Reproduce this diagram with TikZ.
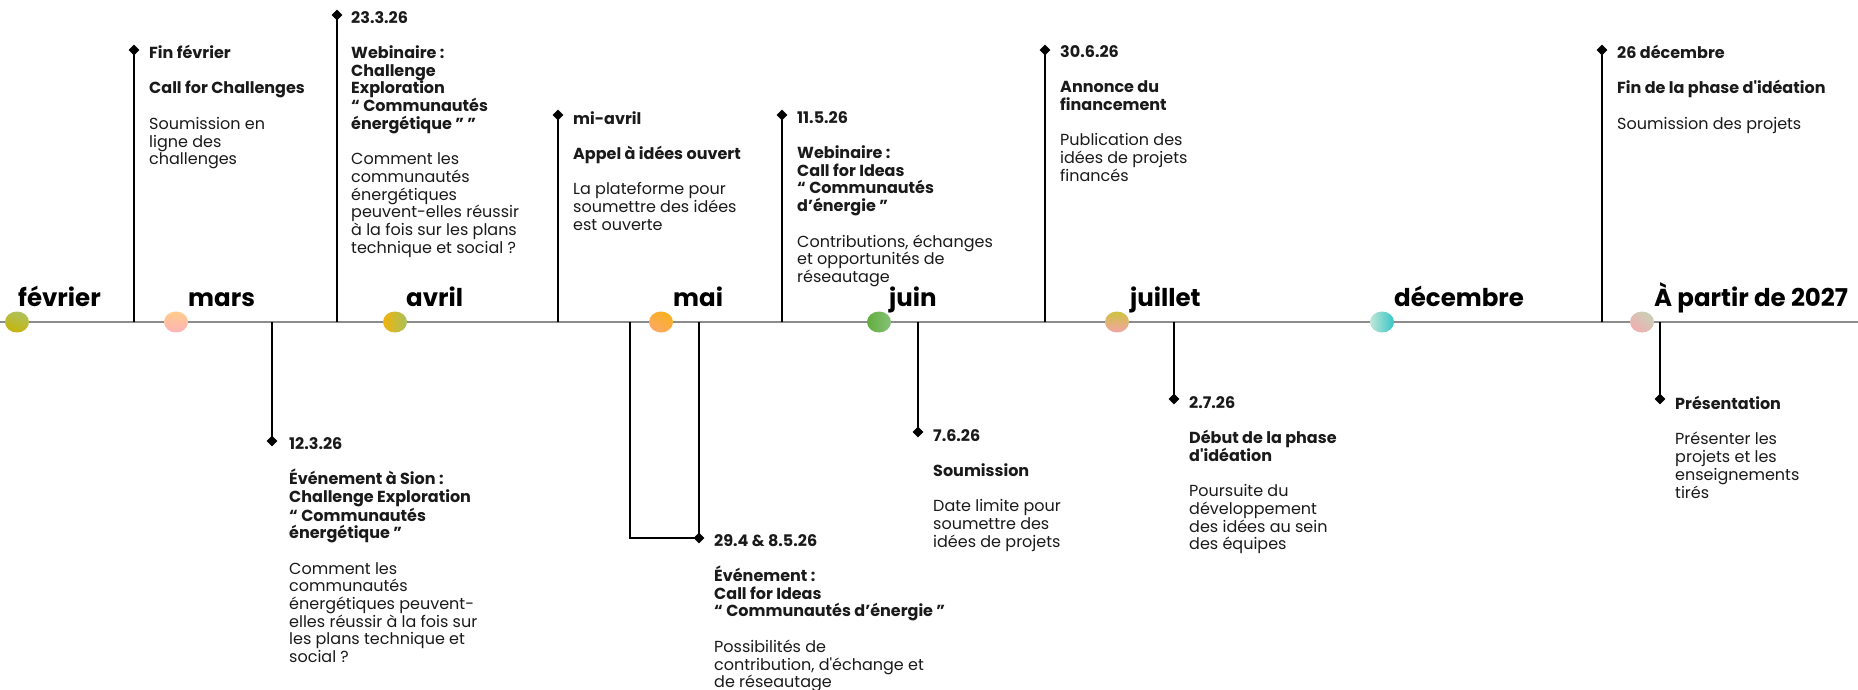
\documentclass[tikz,border=0pt]{standalone}
\usepackage{fontspec}
\setmainfont{Poppins}[Ligatures=TeXOff]
\usetikzlibrary{shapes.geometric}
\definecolor{axisgray}{HTML}{8C8C8C}
\definecolor{txt}{HTML}{1A1A1A}
\definecolor{c1a}{HTML}{AEC25E}\definecolor{c1b}{HTML}{C7B30A}
\definecolor{c2a}{HTML}{FFCC8A}\definecolor{c2b}{HTML}{FFB3B8}
\definecolor{c3a}{HTML}{F2B20C}\definecolor{c3b}{HTML}{A6C25A}
\definecolor{c4a}{HTML}{F7B01E}\definecolor{c4b}{HTML}{FFA866}
\definecolor{c5a}{HTML}{63AD3E}\definecolor{c5b}{HTML}{86C27A}
\definecolor{c6a}{HTML}{CFC23E}\definecolor{c6b}{HTML}{F2A5A8}
\definecolor{c7a}{HTML}{BFE6D6}\definecolor{c7b}{HTML}{36C6C6}
\definecolor{c8a}{HTML}{C9D0B8}\definecolor{c8b}{HTML}{F0AEB0}
\newcommand{\gp}{\\[17.7pt]}
\tikzset{
  axisline/.style={draw=axisgray,line width=2pt},
  conn/.style={draw=black,line width=1.3pt},
  dia/.style={diamond,fill=black,inner sep=0pt,minimum size=11pt},
  month/.style={font=\fontsize{24.5}{28}\selectfont\bfseries,anchor=base west,inner sep=0pt,text=black},
  ev/.style={align=left,anchor=north west,inner sep=0pt,text=txt,font=\fontsize{16}{17.7}\selectfont},
}
\begin{document}
\begin{tikzpicture}[x=1pt,y=-1pt]
\useasboundingbox (0,0) rectangle (1858,690);
\fill[white] (0,0) rectangle (1858,690);
% axis
\coordinate (axL) at (0,322);
\coordinate (axR) at (1858,322);
\draw[axisline] (axL) -- (axR);
% axis attachment points
\coordinate (a1) at (134,322);
\coordinate (a2) at (337,322);
\coordinate (a3) at (558,322);
\coordinate (a4) at (782,322);
\coordinate (a5) at (1045,322);
\coordinate (a6) at (1602,322);
\coordinate (a7) at (272,322);
\coordinate (a8a) at (630,322);
\coordinate (a8b) at (699,322);
\coordinate (a9) at (918,322);
\coordinate (a10) at (1174,322);
\coordinate (a11) at (1660,322);
% diamonds
\node[dia] (d1) at (134,50) {};
\node[dia] (d2) at (337,15) {};
\node[dia] (d3) at (558,115) {};
\node[dia] (d4) at (782,115) {};
\node[dia] (d5) at (1045,50) {};
\node[dia] (d6) at (1602,50) {};
\node[dia] (d7) at (272,441) {};
\node[dia] (d8) at (699,538) {};
\node[dia] (d9) at (918,432) {};
\node[dia] (d10) at (1174,399) {};
\node[dia] (d11) at (1660,399) {};
% connectors
\draw[conn] (a1) -- (d1.center);
\draw[conn] (a2) -- (d2.center);
\draw[conn] (a3) -- (d3.center);
\draw[conn] (a4) -- (d4.center);
\draw[conn] (a5) -- (d5.center);
\draw[conn] (a6) -- (d6.center);
\draw[conn] (a7) -- (d7.center);
\draw[conn] (a8a) |- (d8.center);
\draw[conn] (a8b) -- (d8.center);
\draw[conn] (a9) -- (d9.center);
\draw[conn] (a10) -- (d10.center);
\draw[conn] (a11) -- (d11.center);
% dots
\shade[top color=c1a,bottom color=c1b,shading angle=-20] (17,322) ellipse (12pt and 10.5pt);
\shade[top color=c2a,bottom color=c2b] (176,322) ellipse (12pt and 10.5pt);
\shade[left color=c3a,right color=c3b] (395,322) ellipse (12pt and 10.5pt);
\shade[top color=c4a,bottom color=c4b,shading angle=-30] (661,322) ellipse (12pt and 10.5pt);
\shade[left color=c5a,right color=c5b] (879,322) ellipse (12pt and 10.5pt);
\shade[top color=c6a,bottom color=c6b] (1117,322) ellipse (12pt and 10.5pt);
\shade[left color=c7a,right color=c7b] (1382,322) ellipse (12pt and 10.5pt);
\shade[top color=c8a,bottom color=c8b,shading angle=-40] (1642,322) ellipse (12pt and 10.5pt);
% month labels
\node[month] (m1) at (18,306) {février};
\node[month] (m2) at (188,306) {mars};
\node[month] (m3) at (406,306) {avril};
\node[month] (m4) at (673,306) {mai};
\node[month] (m5) at (889,306) {juin};
\node[month] (m6) at (1130,306) {juillet};
\node[month] (m7) at (1394,306) {décembre};
\node[month] (m8) at (1654,306) {À partir de 2027};
% event texts
\node[ev] (t1) at (149,45) {\textbf{Fin février}\gp\textbf{Call for Challenges}\gp Soumission en\\ligne des\\challenges};
\node[ev] (t2) at (351,11) {\textbf{23.3.26}\gp\textbf{Webinaire :}\\\textbf{Challenge}\\\textbf{Exploration}\\\textbf{“ Communautés}\\\textbf{énergétique ” ”}\gp Comment les\\communautés\\énergétiques\\peuvent-elles réussir\\à la fois sur les plans\\technique et social ?};
\node[ev] (t3) at (573,111) {\textbf{mi-avril}\gp\textbf{Appel à idées ouvert}\gp La plateforme pour\\soumettre des idées\\est ouverte};
\node[ev] (t4) at (797,111) {\textbf{11.5.26}\gp\textbf{Webinaire :}\\\textbf{Call for Ideas}\\\textbf{“ Communautés}\\\textbf{d’énergie ”}\gp Contributions, échanges\\et opportunités de\\réseautage};
\node[ev] (t5) at (1060,45) {\textbf{30.6.26}\gp\textbf{Annonce du}\\\textbf{financement}\gp Publication des\\idées de projets\\financés};
\node[ev] (t6) at (1617,45) {\textbf{26 décembre}\gp\textbf{Fin de la phase d'idéation}\gp Soumission des projets};
\node[ev] (t7) at (289,437) {\textbf{12.3.26}\gp\textbf{Événement à Sion :}\\\textbf{Challenge Exploration}\\\textbf{“ Communautés}\\\textbf{énergétique ”}\gp Comment les\\communautés\\énergétiques peuvent-\\elles réussir à la fois sur\\les plans technique et\\social ?};
\node[ev] (t8) at (714,534) {\textbf{29.4 \& 8.5.26}\gp\textbf{Événement :}\\\textbf{Call for Ideas}\\\textbf{“ Communautés d’énergie ”}\gp Possibilités de\\contribution, d'échange et\\de réseautage};
\node[ev] (t9) at (933,429) {\textbf{7.6.26}\gp\textbf{Soumission}\gp Date limite pour\\soumettre des\\idées de projets};
\node[ev] (t10) at (1189,396) {\textbf{2.7.26}\gp\textbf{Début de la phase}\\\textbf{d'idéation}\gp Poursuite du\\développement\\des idées au sein\\des équipes};
\node[ev] (t11) at (1675,396) {\textbf{Présentation}\gp Présenter les\\projets et les\\enseignements\\tirés};
\end{tikzpicture}
\end{document}
